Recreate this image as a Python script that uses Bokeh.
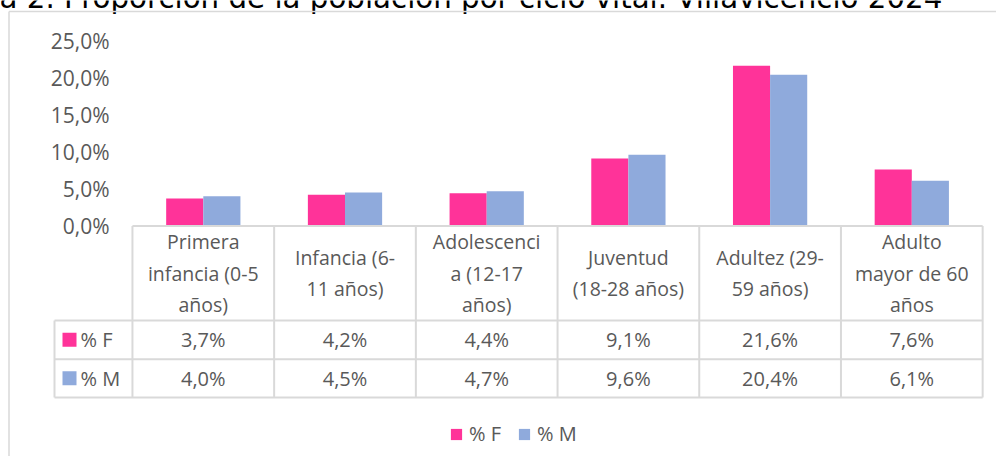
from bokeh.plotting import figure
from bokeh.models import ColumnDataSource, Range1d
from bokeh.transform import dodge
from bokeh.core.properties import value
from bokeh.embed import file_html
from bokeh.resources import INLINE

# ---------------- data ----------------
title_text = "a 2. Proporción de la población por ciclo vital. Villavicencio 2024"
categories = [
    "Primera\ninfancia (0-5\naños)",
    "Infancia (6-\n11 años)",
    "Adolescenci\na (12-17\naños)",
    "Juventud\n(18-28 años)",
    "Adultez (29-\n59 años)",
    "Adulto\nmayor de 60\naños",
]
series_names = ["% F", "% M"]
pct_f = [3.7, 4.2, 4.4, 9.1, 21.6, 7.6]
pct_m = [4.0, 4.5, 4.7, 9.6, 20.4, 6.1]
colors = ["#FF3399", "#8FAADC"]
y_ticks = [0, 5, 10, 15, 20, 25]
y_tick_labels = ["0,0%", "5,0%", "10,0%", "15,0%", "20,0%", "25,0%"]

# ---------------- layout helpers (pixel geometry) ----------------
W, H = 996, 456
X0, CW = 202.8, 141.7   # centre of first category, category width (px)
Y0, PY = 225.5, 7.42    # pixel of 0 %, pixels per 1 %

def px2x(px):
    return (px - X0) / CW

def py2y(py):
    return (Y0 - py) / PY

FONT = value("Open Sans")
GREY_TXT = "#595959"
GRID = "#d9d9d9"

p = figure(width=W, height=H, output_backend="svg", toolbar_location=None,
           x_range=Range1d(px2x(0), px2x(W)), y_range=Range1d(py2y(H), py2y(0)),
           x_axis_location=None, y_axis_location=None, min_border=0)
p.outline_line_color = None
p.xgrid.visible = False
p.ygrid.visible = False
p.background_fill_color = "white"
p.border_fill_color = "white"

n = len(categories)
idx = list(range(n))
fmt = lambda v: f"{v:.1f}".replace(".", ",") + "%"
src = ColumnDataSource(dict(idx=idx, cat=categories, F=pct_f, M=pct_m,
                            Ft=[fmt(v) for v in pct_f], Mt=[fmt(v) for v in pct_m]))

# title (partially cut by window top)
p.text(x=[px2x(-1)], y=[py2y(-3)], text=[title_text], text_font=value("DejaVu Sans"),
       text_font_size=value("29.3px"), text_color="black", text_baseline="alphabetic",
       text_align="left")

# chart border (left and top edges visible)
p.segment(x0=[px2x(8.5), px2x(8.5)], y0=[py2y(11), py2y(11)],
          x1=[px2x(8.5), px2x(W)], y1=[py2y(H), py2y(11)],
          line_color=GRID, line_width=1.5)

# y tick labels
p.text(x=[px2x(109)] * len(y_ticks), y=y_ticks, text=y_tick_labels, text_font=FONT,
       text_font_size=value("21px"), text_color=GREY_TXT, text_align="right",
       text_baseline="middle")

# bars
bw = 0.262
p.vbar(x=dodge("idx", -bw / 2, range=p.x_range), top="F", width=bw, bottom=0, source=src,
       fill_color=colors[0], line_color=None, legend_label=series_names[0])
p.vbar(x=dodge("idx", bw / 2, range=p.x_range), top="M", width=bw, bottom=0, source=src,
       fill_color=colors[1], line_color=None, legend_label=series_names[1])

# ---------------- data table ----------------
row_top, row_hdr, row_f, row_bot = 225.5, 320, 358.7, 397
lbl_left = 54
bounds = [i - 0.5 for i in idx] + [n - 0.5]
vx = bounds
p.segment(x0=vx, y0=[py2y(row_top)] * len(vx), x1=vx, y1=[py2y(row_bot)] * len(vx),
          line_color=GRID, line_width=2)
p.segment(x0=[px2x(lbl_left)], y0=[py2y(row_hdr)], x1=[px2x(lbl_left)], y1=[py2y(row_bot)],
          line_color=GRID, line_width=2)
p.segment(x0=[bounds[0], px2x(lbl_left), px2x(lbl_left), px2x(lbl_left)],
          y0=[py2y(row_top), py2y(row_hdr), py2y(row_f), py2y(row_bot)],
          x1=[bounds[-1]] * 4,
          y1=[py2y(row_top), py2y(row_hdr), py2y(row_f), py2y(row_bot)],
          line_color=GRID, line_width=2)

# header labels
p.text(x="idx", y=py2y((row_top + row_hdr) / 2), text="cat", source=src, text_font=FONT,
       text_font_size=value("19.5px"), text_color=GREY_TXT, text_align="center",
       text_baseline="middle", text_line_height=1.16)

yf = py2y((row_hdr + row_f) / 2)
ym = py2y((row_f + row_bot) / 2)
p.text(x="idx", y=yf, text="Ft", source=src, text_font=FONT, text_font_size=value("20px"),
       text_color=GREY_TXT, text_align="center", text_baseline="middle")
p.text(x="idx", y=ym, text="Mt", source=src, text_font=FONT, text_font_size=value("20px"),
       text_color=GREY_TXT, text_align="center", text_baseline="middle")

# row keys
p.scatter(x=[px2x(69), px2x(69)], y=[yf, ym], marker="square", size=14,
          fill_color=colors, line_color=None)
p.text(x=[px2x(80), px2x(80)], y=[yf, ym], text=series_names, text_font=FONT,
       text_font_size=value("20px"), text_color=GREY_TXT, text_align="left",
       text_baseline="middle")

# legend
lg = p.legend[0]
lg.orientation = "horizontal"
lg.location = (449, 9)
lg.glyph_width = 14
lg.glyph_height = 14
lg.label_standoff = 6
lg.spacing = 16
lg.padding = 0
lg.margin = 0
lg.border_line_color = None
lg.background_fill_alpha = 0
lg.label_text_font = "Open Sans"
lg.label_text_font_size = "20px"
lg.label_text_color = GREY_TXT
lg.label_height = 20

open("out.html", "w").write(file_html(p, INLINE))
